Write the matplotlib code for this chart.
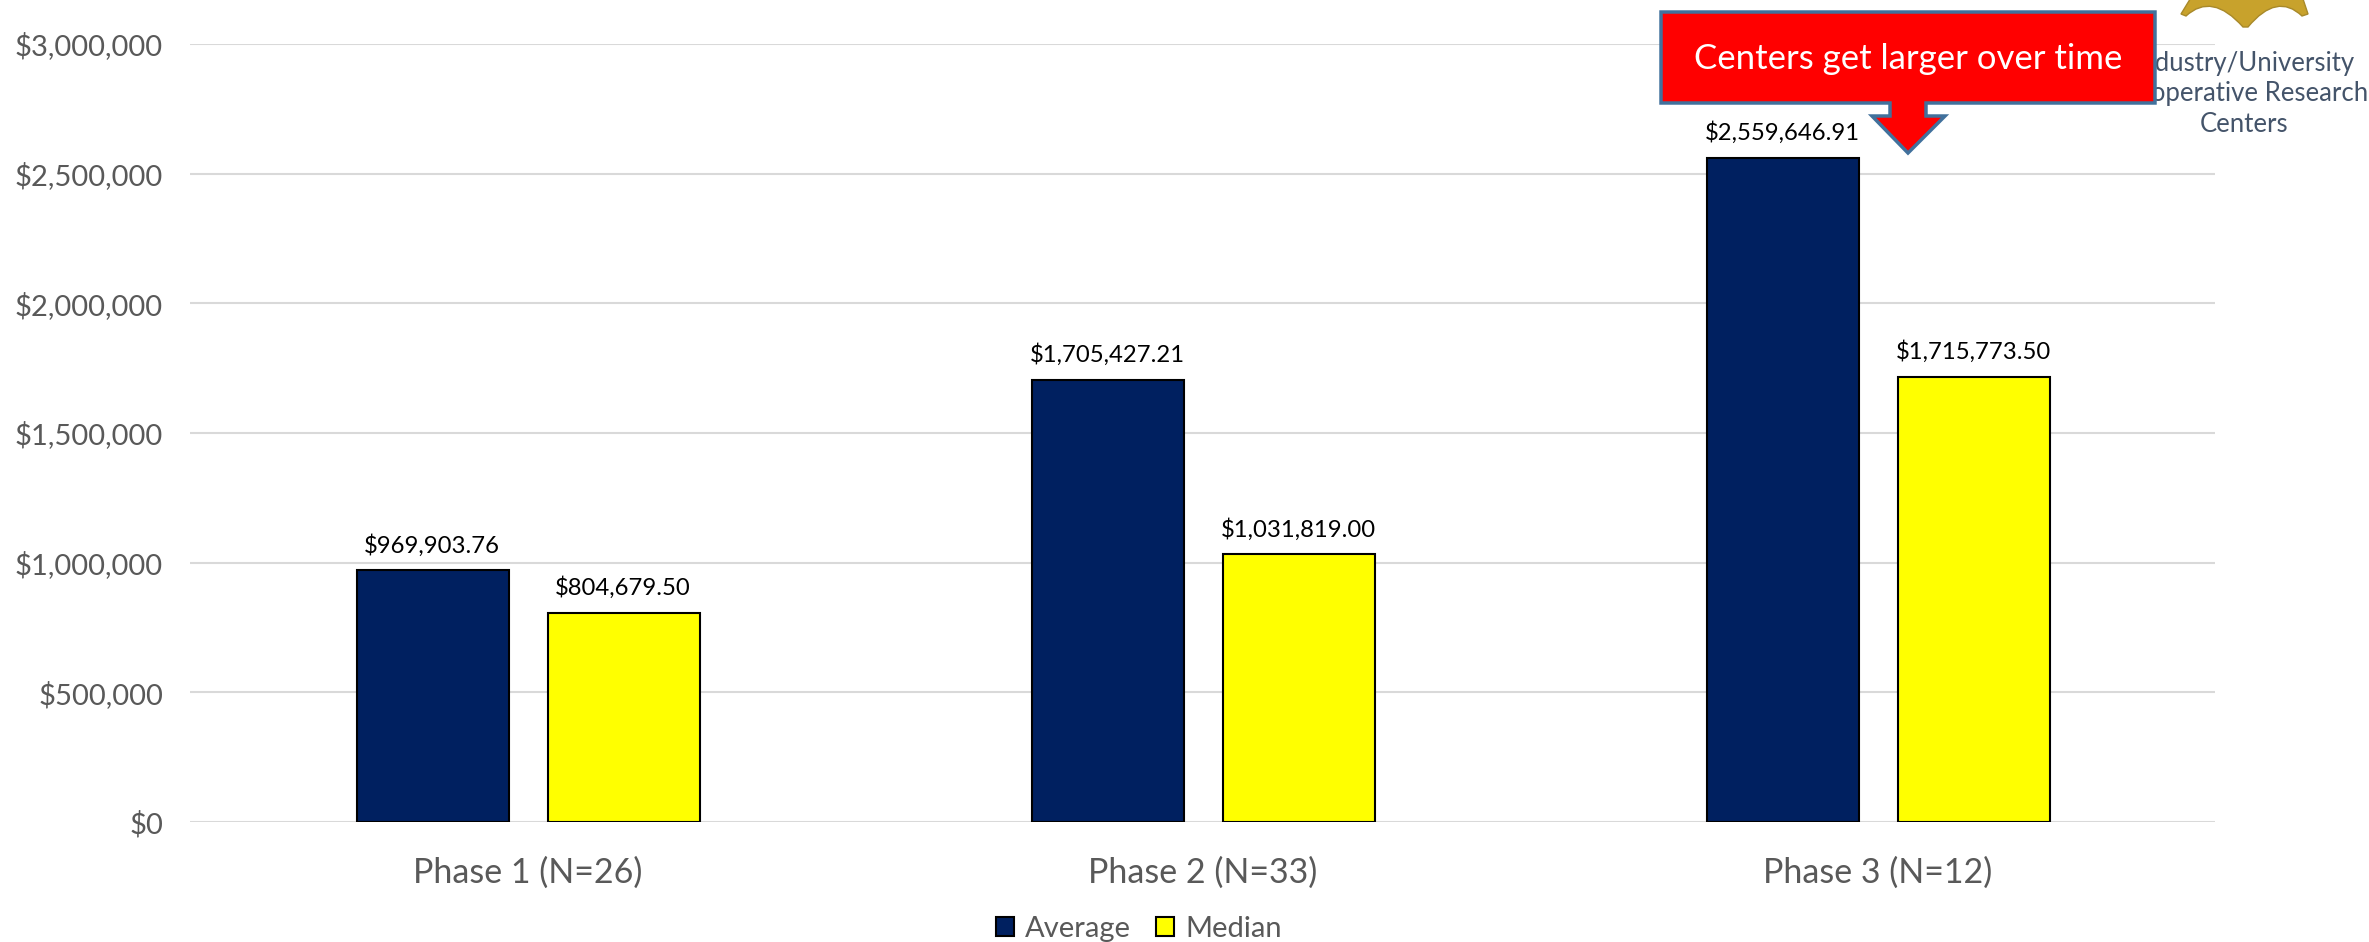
import matplotlib
matplotlib.use("Agg")
import matplotlib.pyplot as plt
from matplotlib.patches import Polygon, PathPatch
from matplotlib.path import Path
import numpy as np

W, H = 2369, 942
categories = ["Phase 1 (N=26)", "Phase 2 (N=33)", "Phase 3 (N=12)"]
average = [969903.76, 1705427.21, 2559646.91]
median = [804679.50, 1031819.00, 1715773.50]
avg_labels = ["$969,903.76", "$1,705,427.21", "$2,559,646.91"]
med_labels = ["$804,679.50", "$1,031,819.00", "$1,715,773.50"]
yticks = [0, 500000, 1000000, 1500000, 2000000, 2500000, 3000000]
ylabels = ["$0", "$500,000", "$1,000,000", "$1,500,000", "$2,000,000", "$2,500,000", "$3,000,000"]

plt.rcParams['font.family'] = ['Lato', 'DejaVu Sans']
fig = plt.figure(figsize=(W/100, H/100), dpi=100)
L, R, T, B = 190, 2215, 44, 822
ax = fig.add_axes([L/W, 1-B/H, (R-L)/W, (B-T)/H])
x = np.arange(3)
bw, gap = 0.225, 0.058
off = (bw+gap)/2
NAVY, YEL, GREY = "#002060", "#FFFF00", "#595959"
ax.bar(x-off+0.001, average, bw, color=NAVY, edgecolor="black", linewidth=1.5, zorder=3, label="Average")
ax.bar(x+off+0.001, median, bw, color=YEL, edgecolor="black", linewidth=1.5, zorder=3, label="Median")
for xi, v, s in zip(x-off, average, avg_labels):
    ax.annotate(s, (xi, v), xytext=(0, 14), textcoords="offset pixels", ha="center", va="bottom", fontsize=17.2, color="black")
for xi, v, s in zip(x+off, median, med_labels):
    ax.annotate(s, (xi, v), xytext=(0, 14), textcoords="offset pixels", ha="center", va="bottom", fontsize=17.2, color="black")
ax.set_xlim(-0.5, 2.5)
ax.set_ylim(0, 3000000)
ax.set_yticks(yticks, ylabels)
ax.set_xticks(x, categories)
ax.tick_params(axis='y', length=0, labelsize=21, labelcolor=GREY, pad=19.5)
ax.tick_params(axis='x', length=0, labelsize=24.5, labelcolor=GREY, pad=25)
ax.grid(axis='y', color="#D9D9D9", linewidth=1.5, zorder=0)
ax.set_axisbelow(True)
for s in ax.spines.values():
    s.set_visible(False)
leg = fig.legend(*ax.get_legend_handles_labels(), loc="center", bbox_to_anchor=(1139/W, 1-929/H), ncol=2,
                 frameon=False, fontsize=21, labelcolor=GREY, handlelength=0.62, handleheight=0.62,
                 handletextpad=0.4, columnspacing=0.85, borderpad=0)

# overlay in pixel coordinates for logo, its caption and the callout
ov = fig.add_axes([0, 0, 1, 1], facecolor="none")
ov.set_xlim(0, W); ov.set_ylim(H, 0); ov.axis("off")
verts = [(2192, -4), (2181, 14), (2186, 16), (2212, -8), (2243, 27), (2248, 27),
         (2277, -8), (2302, 16), (2308, 14), (2302, -4), (2192, -4)]
codes = [Path.MOVETO, Path.LINETO, Path.LINETO, Path.CURVE3, Path.CURVE3, Path.LINETO,
         Path.CURVE3, Path.CURVE3, Path.LINETO, Path.LINETO, Path.CLOSEPOLY]
ov.add_patch(PathPatch(Path(verts, codes), facecolor="#C8A22C", edgecolor="#A8892A", linewidth=1, zorder=1))
for yy, s in zip((63, 94, 124), ("Industry/University", "Cooperative Research", "Centers")):
    ov.text(2244, yy, s, ha="center", va="center", fontsize=18.5, color="#44546A", zorder=1)
call = [(1661,12),(2155,12),(2155,103),(1926,103),(1926,116),(1945,116),(1908,153),(1872,116),(1890,116),(1890,103),(1661,103)]
ov.add_patch(Polygon(call, closed=True, facecolor="#FF0000", edgecolor="#41719C", linewidth=2.5, zorder=5, joinstyle="miter"))
ov.text(1908, 59, "Centers get larger over time", ha="center", va="center", fontsize=25, color="white", zorder=6)

fig.savefig("out.png", dpi=100, facecolor="white")
